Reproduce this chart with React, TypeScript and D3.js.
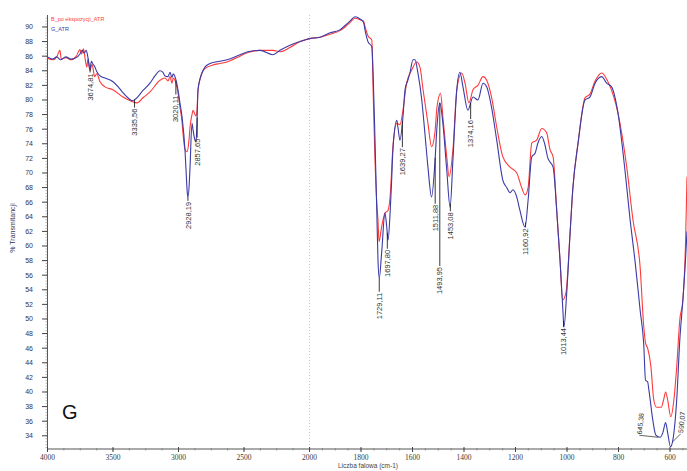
import * as d3 from 'd3';

// widma: [liczba falowa, % transmitancji]
const seriesNames = ['B_po ekspozycji_ATR', 'G_ATR'];

const redSpectrum: [number, number][] = [
  [4000, 85.7], [3960, 85.5], [3930, 85.9], [3905, 86.8], [3895, 85.6], [3860, 85.8], [3820, 85.5],
  [3780, 86.0], [3752, 86.9], [3740, 86.3], [3725, 87.0], [3714, 85.8], [3700, 84.5], [3691, 85.6],
  [3676, 84.0], [3660, 84.9], [3640, 83.2], [3624, 83.6], [3599, 82.5], [3561, 81.8], [3500, 81.4],
  [3424, 80.4], [3355, 79.8], [3317, 79.6], [3271, 80.3], [3218, 81.1], [3141, 82.7], [3103, 83.0],
  [3080, 82.6], [3065, 83.2], [3050, 82.3], [3040, 83.0], [3027, 82.7], [3004, 81.0], [2989, 79.0],
  [2973, 77.0], [2966, 75.5], [2950, 73.2], [2935, 72.9], [2920, 74.5], [2912, 76.3], [2897, 78.0],
  [2889, 78.6], [2874, 78.0], [2866, 77.8], [2859, 78.6], [2851, 81.4], [2836, 82.8], [2821, 83.7],
  [2798, 84.3], [2737, 84.8], [2683, 85.0], [2630, 85.2], [2530, 86.0], [2470, 86.5], [2378, 86.8],
  [2279, 86.8], [2225, 86.6], [2149, 87.2], [2072, 88.0], [2000, 88.4], [1959, 88.6], [1920, 89.0],
  [1882, 89.5], [1862, 90.0], [1843, 90.6], [1823, 91.2], [1804, 91.0], [1790, 90.8], [1784, 90.0],
  [1773, 88.8], [1758, 88.2], [1753, 81.4], [1746, 72.2], [1739, 66.0], [1734, 63.5], [1730, 60.6],
  [1720, 62.6], [1707, 64.5], [1695, 64.9], [1687, 66.7], [1676, 73.6], [1661, 76.8], [1649, 76.6],
  [1637, 78.6], [1623, 82.3], [1603, 84.1], [1584, 85.2], [1571, 84.5], [1559, 81.4], [1540, 76.8],
  [1526, 73.6], [1513, 75.5], [1505, 79.0], [1491, 80.9], [1482, 77.7], [1467, 72.2], [1458, 69.5],
  [1443, 73.2], [1428, 81.4], [1409, 83.7], [1396, 82.3], [1381, 79.6], [1365, 81.4], [1346, 82.0],
  [1326, 83.2], [1312, 82.7], [1293, 80.4], [1273, 76.3], [1249, 72.2], [1221, 70.8], [1195, 70.0],
  [1176, 68.0], [1163, 67.0], [1151, 68.0], [1137, 74.1], [1118, 74.5], [1098, 76.1], [1079, 75.5],
  [1066, 73.2], [1054, 72.2], [1040, 64.9], [1027, 58.0], [1017, 52.6], [1004, 53.6], [988, 61.8],
  [977, 68.0], [957, 74.1], [930, 80.3], [911, 80.8], [891, 82.6], [865, 83.7], [841, 82.5],
  [802, 78.2], [768, 70.8], [744, 63.6], [716, 57.1], [702, 49.0], [695, 46.7], [687, 46.0],
  [674, 43.4], [663, 38.9], [652, 37.9], [634, 37.9], [625, 38.9], [617, 40.0], [609, 38.9],
  [597, 36.6], [585, 38.9], [574, 43.4], [562, 49.9], [550, 52.6], [540, 60.0], [534, 69.5],
];

const blueSpectrum: [number, number][] = [
  [4000, 85.9], [3960, 85.6], [3930, 85.9], [3900, 85.5], [3860, 85.9], [3820, 85.6], [3780, 85.8],
  [3752, 86.3], [3735, 86.8], [3720, 86.4], [3705, 86.8], [3691, 85.8], [3676, 84.2], [3665, 85.3],
  [3653, 84.9], [3640, 84.6], [3624, 83.9], [3599, 83.3], [3561, 83.0], [3500, 82.5], [3460, 81.8],
  [3424, 81.0], [3380, 80.2], [3355, 79.9], [3330, 80.1], [3271, 81.3], [3218, 82.3], [3180, 83.3],
  [3141, 84.0], [3120, 83.8], [3103, 83.3], [3080, 83.2], [3065, 83.8], [3050, 83.1], [3040, 83.6],
  [3027, 83.2], [3004, 81.4], [2989, 79.6], [2973, 77.7], [2950, 73.0], [2940, 69.5], [2933, 67.3],
  [2928, 66.7], [2918, 68.5], [2912, 70.8], [2897, 76.8], [2889, 75.9], [2874, 74.5], [2866, 74.3],
  [2859, 76.8], [2851, 81.4], [2821, 83.7], [2798, 84.5], [2759, 85.0], [2683, 85.3], [2630, 85.5],
  [2530, 86.2], [2470, 86.6], [2378, 86.8], [2279, 86.2], [2225, 86.8], [2149, 87.5], [2072, 88.0],
  [2000, 88.4], [1959, 88.6], [1920, 89.2], [1882, 89.6], [1862, 90.2], [1843, 90.8], [1823, 91.4],
  [1804, 91.1], [1790, 90.6], [1784, 89.5], [1773, 88.0], [1758, 87.3], [1753, 83.7], [1746, 75.0],
  [1739, 65.3], [1734, 58.0], [1729, 55.6], [1720, 59.0], [1707, 64.5], [1700, 62.6], [1695, 60.8],
  [1687, 64.5], [1681, 69.0], [1676, 73.2], [1661, 77.2], [1656, 76.1], [1649, 74.5], [1637, 77.7],
  [1629, 81.4], [1618, 82.7], [1610, 83.7], [1598, 85.5], [1590, 85.5], [1579, 83.7], [1564, 80.0],
  [1552, 75.5], [1540, 70.8], [1526, 66.7], [1513, 71.4], [1505, 76.3], [1494, 79.6], [1482, 76.8],
  [1467, 70.4], [1454, 65.3], [1443, 71.8], [1428, 81.4], [1416, 83.8], [1404, 81.8], [1385, 78.6],
  [1365, 80.4], [1346, 80.0], [1326, 82.3], [1312, 81.8], [1293, 79.0], [1273, 74.5], [1249, 69.0],
  [1234, 68.0], [1221, 67.3], [1210, 67.7], [1195, 66.7], [1183, 64.9], [1163, 62.6], [1151, 66.3],
  [1137, 72.2], [1124, 72.7], [1113, 74.1], [1098, 75.0], [1086, 73.9], [1074, 72.0], [1066, 71.5],
  [1054, 70.8], [1040, 64.9], [1027, 58.0], [1016, 51.2], [1012, 48.9], [1001, 53.6], [988, 61.8],
  [977, 68.0], [957, 74.1], [930, 80.0], [911, 80.4], [891, 82.3], [865, 83.2], [846, 82.3],
  [827, 81.8], [802, 78.2], [775, 70.4], [755, 63.6], [736, 58.0], [716, 51.2], [702, 46.5],
  [695, 41.6], [687, 41.4], [682, 40.3], [667, 36.2], [655, 34.1], [638, 33.8], [628, 34.4],
  [617, 35.8], [609, 34.4], [598, 32.5], [589, 33.4], [574, 38.9], [562, 47.1], [550, 52.6],
  [540, 58.0], [534, 62.0],
];

const peakLabels = [
  '3674,81', '3335,56', '3020,11', '2928,19', '2857,65', '1729,11', '1697,80', '1639,27',
  '1511,88', '1493,95', '1453,08', '1374,16', '1160,92', '1013,44', '645,38', '590,07',
];
const peakWn = [
  3674.81, 3335.56, 3020.11, 2928.19, 2857.65, 1729.11, 1697.8, 1639.27,
  1511.88, 1493.95, 1453.08, 1374.16, 1160.92, 1013.44, 645.38, 590.07,
];

const xTickValues = [4000, 3500, 3000, 2500, 2000, 1800, 1600, 1400, 1200, 1000, 800, 600];
const yTickValues = d3.range(34, 91, 2);

// długość kresek przy etykietach (px)
const leaderLen = [4, 8, 14, 4, 20, 14, 16, 26, 46, 163, 8, 16, 5, 6, 0, 0];

const W = 687;
const H = 471;

// oś x łamana przy 2000 cm-1
const x = d3.scaleLinear().domain([4000, 2000, 534]).range([47.5, 309.5, 687]);
const y = d3.scaleLinear().domain([32.19, 91.64]).range([449, 15]);

function tAt(data: [number, number][], wn: number) {
  for (let i = 0; i < data.length - 1; i++) {
    const [w0, t0] = data[i];
    const [w1, t1] = data[i + 1];
    if (wn <= w0 && wn >= w1) return t0 + ((wn - w0) / (w1 - w0)) * (t1 - t0);
  }
  return data[data.length - 1][1];
}

export default function App() {
  const line = d3.line<[number, number]>()
    .x(d => x(d[0]))
    .y(d => y(d[1]))
    .curve(d3.curveMonotoneX);

  const yMinor = d3.range(32.4, 91.6, 0.4);
  const xMinor = [...d3.range(4000, 2000, -125), ...d3.range(2000, 534, -50)];

  return (
    <svg width={W} height={H} style={{ position: 'absolute', left: 0, top: 0, background: '#fff' }}>
      {/* linia przerwy skali */}
      <line x1={x(2000)} x2={x(2000)} y1={15} y2={449} stroke="#c8c8c8" strokeDasharray="1,2" />

      {/* oś Y */}
      <line x1={47.5} x2={47.5} y1={15} y2={449} stroke="#555" />
      {yMinor.map((v, i) => (
        <line key={'ym' + i} x1={45.5} x2={47.5} y1={y(v)} y2={y(v)} stroke="#888" strokeWidth={0.6} />
      ))}
      {yTickValues.map(v => (
        <g key={'yt' + v}>
          <line x1={42} x2={47.5} y1={y(v)} y2={y(v)} stroke="#444" />
          <text x={33} y={y(v)} dy="0.35em" textAnchor="end" fontSize={7}
            fontFamily="Liberation Sans, Arial, sans-serif" fill="#33334d">{v}</text>
        </g>
      ))}
      <text transform={`translate(15,228) rotate(-90)`} textAnchor="middle" fontSize={7}
        fontFamily="Liberation Sans, Arial, sans-serif" fill="#33334d">% Transmitancji</text>

      {/* oś X */}
      <line x1={47.5} x2={W} y1={449} y2={449} stroke="#555" />
      {xMinor.map((v, i) => (
        <line key={'xm' + i} x1={x(v)} x2={x(v)} y1={448} y2={450.5} stroke="#777" strokeWidth={0.7} />
      ))}
      {xTickValues.map(v => (
        <g key={'xt' + v}>
          <line x1={x(v)} x2={x(v)} y1={447} y2={452} stroke="#444" />
          <text x={x(v)} y={460} textAnchor="middle" fontSize={7.5}
            fontFamily="Liberation Serif, Times New Roman, serif" fill="#3a3a3a">{v}</text>
        </g>
      ))}
      <text x={338} y={468} fontSize={6.5} fontFamily="Liberation Sans, Arial, sans-serif" fill="#444">
        Liczba falowa (cm-1)
      </text>

      {/* widma */}
      <path d={line(redSpectrum) || ''} fill="none" stroke="#ff3a3a" strokeWidth={1.1} />
      <path d={line(blueSpectrum) || ''} fill="none" stroke="#3a3aa8" strokeWidth={1.1} />

      {/* etykiety pików */}
      {peakLabels.map((lab, i) => {
        const px = x(peakWn[i]);
        const py = y(tAt(blueSpectrum, peakWn[i]));
        if (lab === '645,38' || lab === '590,07') {
          const tx = lab === '645,38' ? px - 19 : px + 8;
          const ty = lab === '645,38' ? py - 2 : py - 8;
          return (
            <g key={lab}>
              <line x1={tx} x2={px} y1={ty + 1} y2={py + 1} stroke="#222" strokeWidth={0.7} />
              <text transform={`translate(${tx},${ty}) rotate(-84)`} dy="0.35em" fontSize={7}
                fontFamily="Liberation Sans, Arial, sans-serif" fill="#333">{lab}</text>
            </g>
          );
        }
        const len = leaderLen[i];
        return (
          <g key={lab}>
            <line x1={px} x2={px} y1={py} y2={py + len} stroke="#222" strokeWidth={0.9} />
            <text transform={`translate(${px},${py + len + 1}) rotate(-90)`} dy="0.35em" textAnchor="end"
              fontSize={7.5} fontFamily="Liberation Sans, Arial, sans-serif" fill="#333">{lab}</text>
          </g>
        );
      })}

      {/* legenda */}
      <text x={51} y={21} fontSize={5.5} fontFamily="Liberation Sans, Arial, sans-serif" fill="#ff3a3a">
        {seriesNames[0]}
      </text>
      <text x={51} y={31} fontSize={5.5} fontFamily="Liberation Sans, Arial, sans-serif" fill="#3a3aa8">
        {seriesNames[1]}
      </text>

      <text x={62} y={419} fontSize={20} fontFamily="Liberation Sans, Arial, sans-serif" fill="#111">G</text>
    </svg>
  );
}
